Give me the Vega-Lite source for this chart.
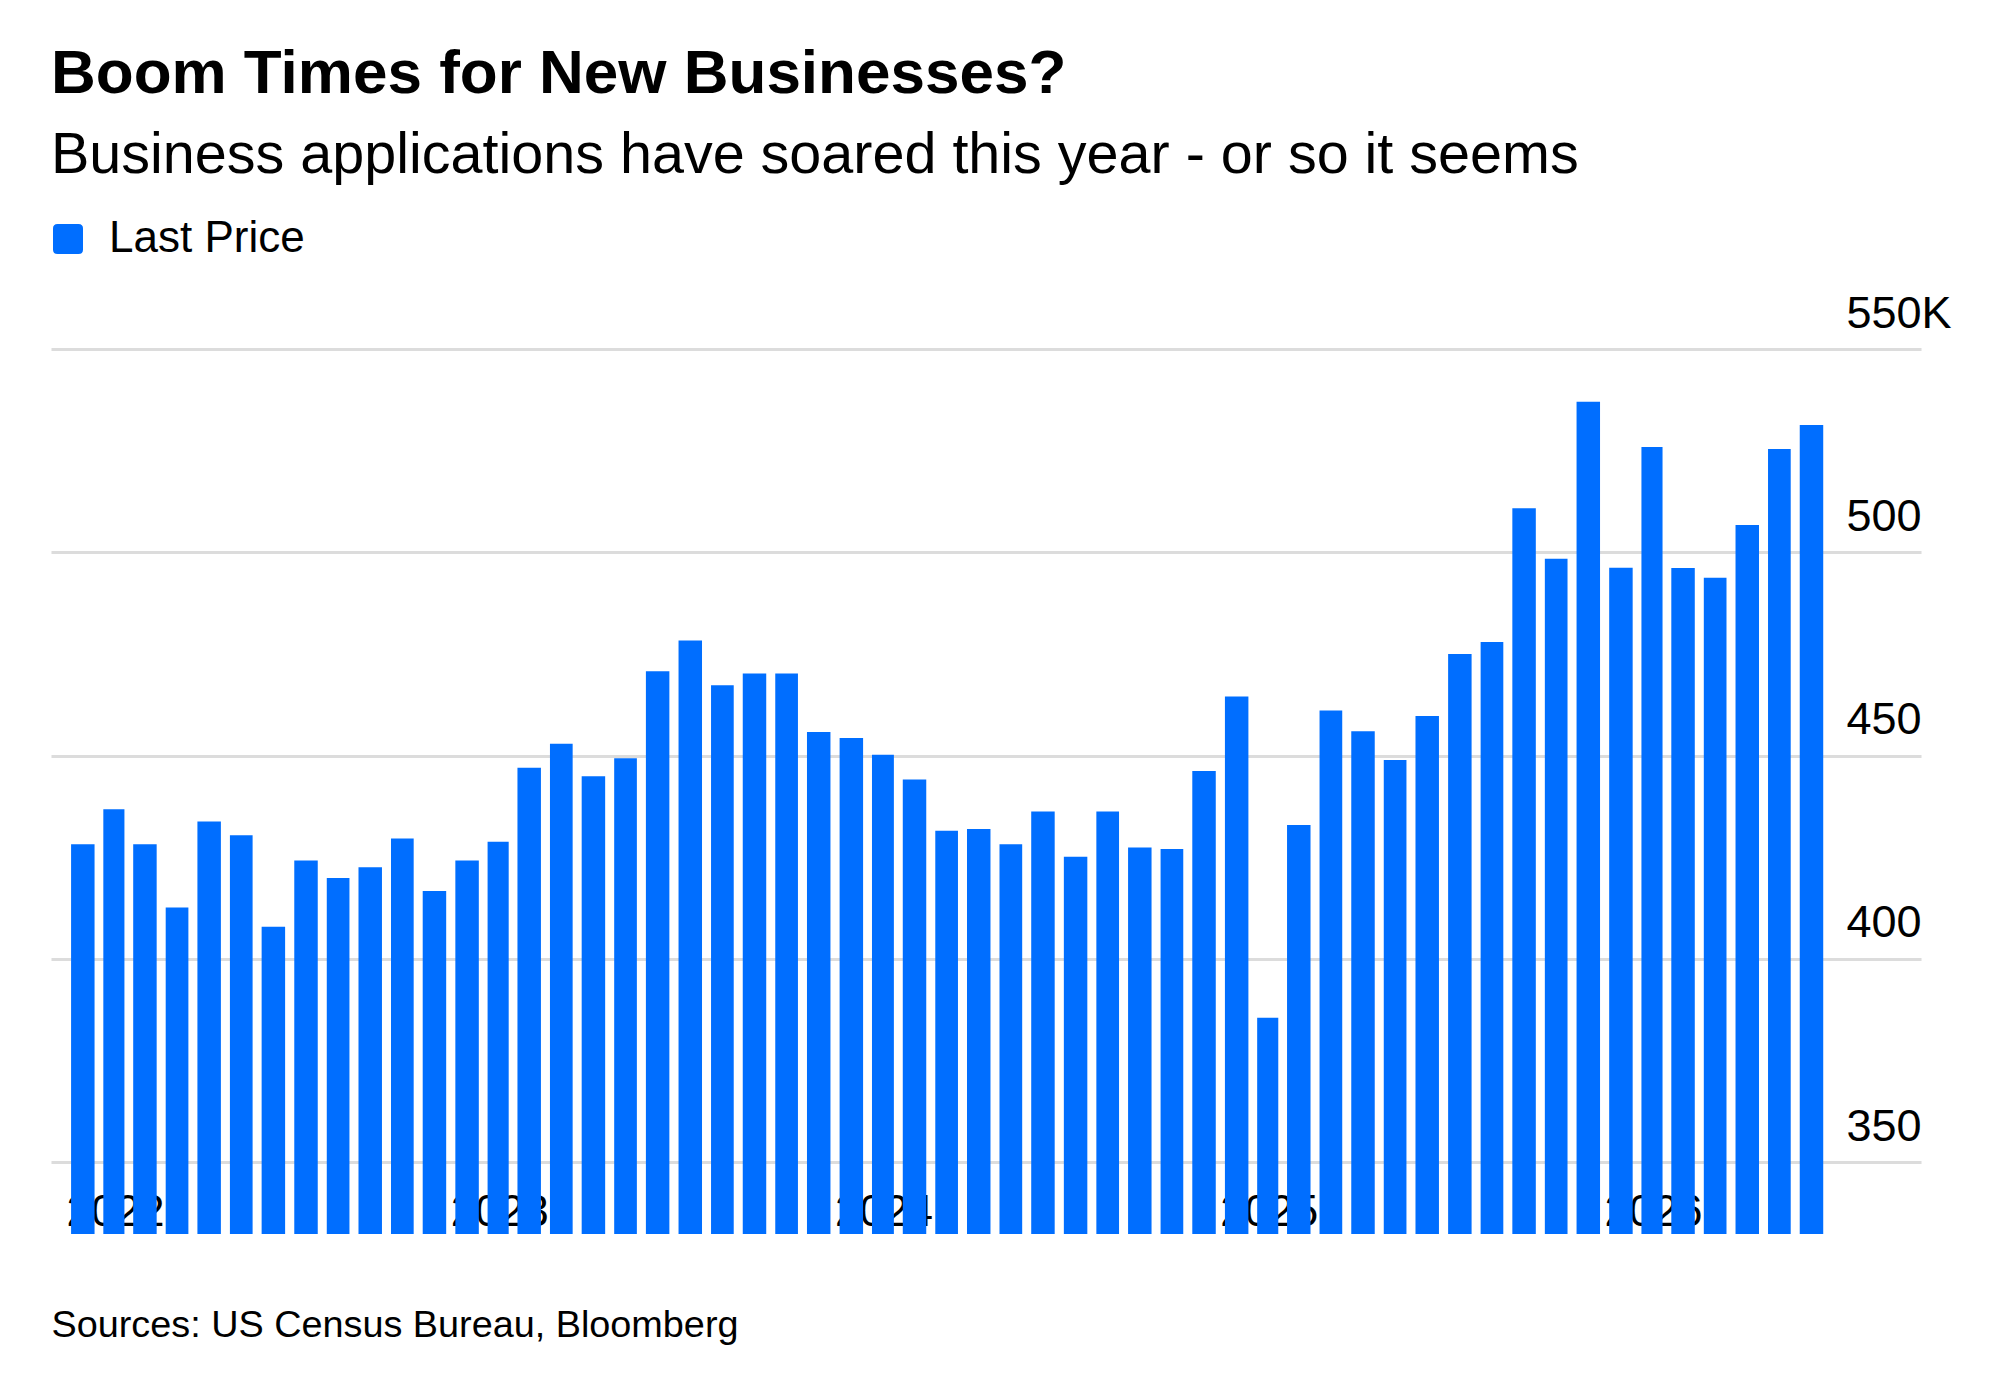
{
  "$schema": "https://vega.github.io/schema/vega-lite/v6.json",
  "width": 1870,
  "height": 885,
  "autosize": {"type": "none"},
  "padding": {"left": 51, "top": 349, "right": 79, "bottom": 143},
  "background": "white",
  "title": {
    "text": "Boom Times for New Businesses?",
    "subtitle": "Business applications have soared this year - or so it seems",
    "anchor": "start",
    "frame": "group",
    "font": "Liberation Sans",
    "fontSize": 62,
    "fontWeight": "bold",
    "color": "#000000",
    "subtitleFont": "Liberation Sans",
    "subtitleFontSize": 57.5,
    "subtitleColor": "#000000",
    "subtitlePadding": 22,
    "offset": 32
  },
  "config": {
    "view": {"stroke": null},
    "font": "Liberation Sans"
  },
  "data": {
    "values": [
      {"month": "2022-01", "apps": 428.2}, {"month": "2022-02", "apps": 436.8},
      {"month": "2022-03", "apps": 428.2}, {"month": "2022-04", "apps": 412.6},
      {"month": "2022-05", "apps": 433.8}, {"month": "2022-06", "apps": 430.4},
      {"month": "2022-07", "apps": 407.9}, {"month": "2022-08", "apps": 424.2},
      {"month": "2022-09", "apps": 419.9}, {"month": "2022-10", "apps": 422.5},
      {"month": "2022-11", "apps": 429.6}, {"month": "2022-12", "apps": 416.7},
      {"month": "2023-01", "apps": 424.2}, {"month": "2023-02", "apps": 428.8},
      {"month": "2023-03", "apps": 447.0}, {"month": "2023-04", "apps": 452.9},
      {"month": "2023-05", "apps": 444.9}, {"month": "2023-06", "apps": 449.3},
      {"month": "2023-07", "apps": 470.7}, {"month": "2023-08", "apps": 478.3},
      {"month": "2023-09", "apps": 467.3}, {"month": "2023-10", "apps": 470.2},
      {"month": "2023-11", "apps": 470.2}, {"month": "2023-12", "apps": 455.8},
      {"month": "2024-01", "apps": 454.3}, {"month": "2024-02", "apps": 450.2},
      {"month": "2024-03", "apps": 444.1}, {"month": "2024-04", "apps": 431.5},
      {"month": "2024-05", "apps": 431.9}, {"month": "2024-06", "apps": 428.2},
      {"month": "2024-07", "apps": 436.2}, {"month": "2024-08", "apps": 425.1},
      {"month": "2024-09", "apps": 436.2}, {"month": "2024-10", "apps": 427.4},
      {"month": "2024-11", "apps": 427.0}, {"month": "2024-12", "apps": 446.2},
      {"month": "2025-01", "apps": 464.5}, {"month": "2025-02", "apps": 385.5},
      {"month": "2025-03", "apps": 432.9}, {"month": "2025-04", "apps": 461.1},
      {"month": "2025-05", "apps": 456.0}, {"month": "2025-06", "apps": 448.9},
      {"month": "2025-07", "apps": 459.7}, {"month": "2025-08", "apps": 475.0},
      {"month": "2025-09", "apps": 477.9}, {"month": "2025-10", "apps": 510.8},
      {"month": "2025-11", "apps": 498.4}, {"month": "2025-12", "apps": 537.0},
      {"month": "2026-01", "apps": 496.2}, {"month": "2026-02", "apps": 525.9},
      {"month": "2026-03", "apps": 496.1}, {"month": "2026-04", "apps": 493.7},
      {"month": "2026-05", "apps": 506.7}, {"month": "2026-06", "apps": 525.4},
      {"month": "2026-07", "apps": 531.3}
    ]
  },
  "mark": {"type": "bar", "width": {"band": 0.75}, "clip": true},
  "encoding": {
    "x": {
      "field": "month",
      "type": "temporal",
      "timeUnit": "utcyearmonth",
      "scale": {
        "domain": [
          {"year": 2021, "month": 12, "date": 17, "hours": 18, "utc": true},
          {"year": 2026, "month": 10, "date": 29, "utc": true}
        ]
      },
      "axis": {
        "values": [
          {"year": 2022, "month": 1, "date": 1, "utc": true},
          {"year": 2023, "month": 1, "date": 1, "utc": true},
          {"year": 2024, "month": 1, "date": 1, "utc": true},
          {"year": 2025, "month": 1, "date": 1, "utc": true},
          {"year": 2026, "month": 1, "date": 1, "utc": true}
        ],
        "labelExpr": "utcFormat(datum.value, '%Y')",
        "labelAlign": "left",
        "labelBaseline": "middle",
        "labelPadding": -22,
        "labelFontSize": 44,
        "labelColor": "#000000",
        "labelFlush": false,
        "labelOverlap": false,
        "ticks": false,
        "domain": false,
        "grid": false,
        "title": "Sources: US Census Bureau, Bloomberg",
        "titleFontSize": 37.8,
        "titleFontWeight": "normal",
        "titleColor": "#000000",
        "titleAnchor": "start",
        "titleAlign": "left",
        "titleBaseline": "middle",
        "titleX": 0,
        "titleY": 91
      }
    },
    "y": {
      "field": "apps",
      "type": "quantitative",
      "scale": {"domain": [332.3, 550], "nice": false, "zero": false},
      "axis": {
        "orient": "right",
        "values": [350, 400, 450, 500, 550],
        "labelExpr": "datum.value == 550 ? '550K' : datum.label",
        "labelAlign": "left",
        "labelBaseline": "alphabetic",
        "labelPadding": -75,
        "labelOffset": -22,
        "labelFontSize": 45,
        "labelColor": "#000000",
        "ticks": false,
        "domain": false,
        "grid": true,
        "gridColor": "#dcdcdc",
        "gridWidth": 3,
        "title": null
      }
    },
    "color": {
      "datum": "Last Price",
      "type": "nominal",
      "scale": {"range": ["#006eff"]},
      "legend": {
        "orient": "none",
        "legendX": -5,
        "legendY": -132,
        "title": null,
        "padding": 0,
        "symbolType": "M-0.7,-1H0.7Q1,-1,1,-0.7V0.7Q1,1,0.7,1H-0.7Q-1,1,-1,0.7V-0.7Q-1,-1,-0.7,-1Z",
        "symbolSize": 900,
        "symbolStrokeWidth": 0,
        "symbolOpacity": 1,
        "labelFontSize": 44,
        "labelLimit": 0,
        "labelColor": "#000000",
        "labelOffset": 19
      }
    }
  }
}
